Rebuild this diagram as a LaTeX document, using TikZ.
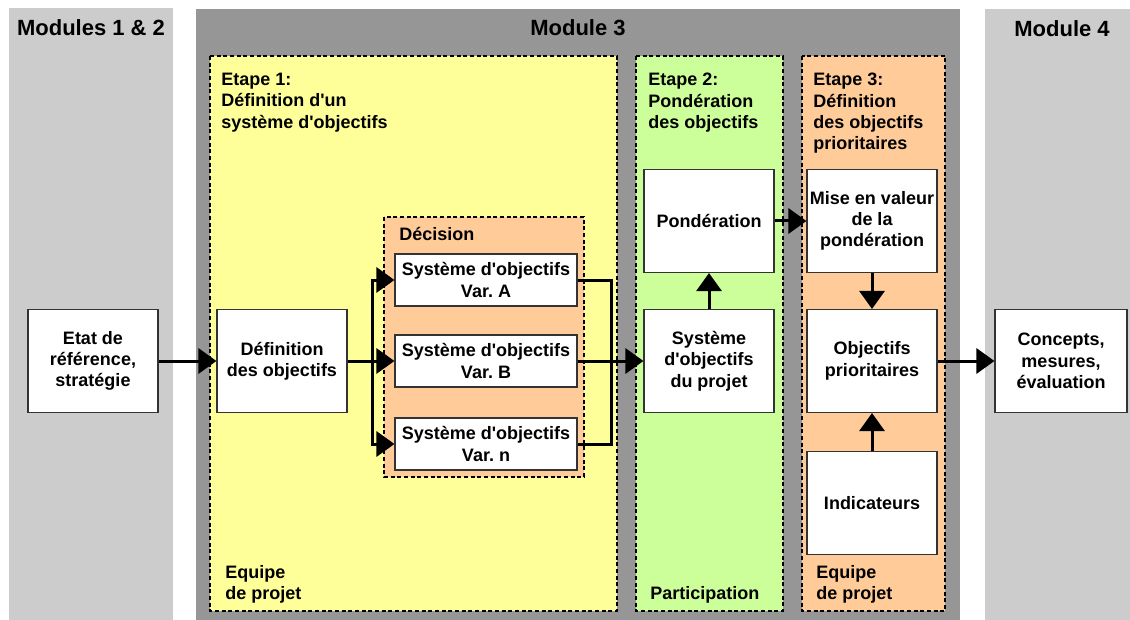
\documentclass[tikz,border=0pt]{standalone}
\usepackage{fontspec}
\setmainfont{Liberation Sans}[Ligatures=TeXOff]
\usetikzlibrary{arrows.meta}
\definecolor{panellight}{HTML}{CCCCCC}
\definecolor{paneldark}{HTML}{969696}
\definecolor{stepyellow}{HTML}{FFFF99}
\definecolor{stepgreen}{HTML}{CCFF99}
\definecolor{steporange}{HTML}{FFCC99}
\definecolor{boxline}{HTML}{333333}
\frenchspacing

\begin{document}
\begin{tikzpicture}[x=0.75pt,y=-0.75pt,
  font=\fontsize{13.5}{16}\selectfont\bfseries,
  stagearea/.style={draw=black, dash pattern=on 3pt off 2pt, line width=1.1pt},
  box/.style={draw=boxline, line width=0.8pt, fill=white, align=center, inner sep=1pt,
              minimum width=97.5pt, minimum height=77.25pt},
  varbox/.style={box, minimum width=136.5pt, minimum height=39pt},
  headtext/.style={font=\fontsize{16.5}{20}\selectfont\bfseries, inner sep=0pt, anchor=base},
  steptext/.style={anchor=north west, align=left, inner sep=0pt},
  wire/.style={line width=2.25pt},
  conn/.style={wire, -{Triangle[length=13.5pt,width=18.75pt]}},
]
\useasboundingbox (0,0) rectangle (1130,620);

% module panels
\fill[panellight] (9,8) rectangle (173,620);
\fill[paneldark] (196,9) rectangle (960,620);
\fill[panellight] (985,9) rectangle (1130,620);
\node[headtext] (m12) at (91,36) {Modules 1 \& 2};
\node[headtext] (m3) at (578,36) {Module 3};
\node[headtext] (m4) at (1062,37) {Module 4};

% steps of module 3
\filldraw[stagearea, fill=stepyellow] (210,56) rectangle (617,611);
\filldraw[stagearea, fill=stepgreen] (636,56) rectangle (783,611);
\filldraw[stagearea, fill=steporange] (802,56) rectangle (945,611);
\filldraw[stagearea, fill=steporange] (384,217) rectangle (584,477);

\node[steptext] (e1) at (221,73) {Etape 1:\\D\'efinition d'un\\syst\`eme d'objectifs};
\node[steptext] (e2) at (648,73) {Etape 2:\\Pond\'eration\\des objectifs};
\node[steptext] (e3) at (813,73) {Etape 3:\\D\'efinition\\des objectifs\\prioritaires};
\node[steptext] (dec) at (399,227) {D\'ecision};
\node[steptext] (eq1) at (225,565) {Equipe\\de projet};
\node[steptext] (part) at (650,586) {Participation};
\node[steptext] (eq3) at (816,565) {Equipe\\de projet};

% boxes
\node[box] (etat) at (93,361) {Etat de\\r\'ef\'erence,\\strat\'egie};
\node[box] (defobj) at (282,361) {D\'efinition\\des objectifs};
\node[varbox] (sysA) at (486,280) {Syst\`eme d'objectifs\\Var. A};
\node[varbox] (sysB) at (486,361) {Syst\`eme d'objectifs\\Var. B};
\node[varbox] (sysN) at (486,444) {Syst\`eme d'objectifs\\Var. n};
\node[box] (pond) at (709,221) {Pond\'eration};
\node[box] (sysproj) at (709,361) {Syst\`eme\\d'objectifs\\du projet};
\node[box] (mise) at (872,221) {Mise en valeur\\de la\\pond\'eration};
\node[box] (objprio) at (872,361) {Objectifs\\prioritaires};
\node[box] (indic) at (872,503) {Indicateurs};
\node[box, minimum width=99pt] (concepts) at (1061,361) {Concepts,\\mesures,\\\'evaluation};

% connectors
\coordinate (split) at (372,361);
\coordinate (merge) at (611,361);
\draw[conn] (etat) -- (defobj);
\draw[conn] (defobj) -- (sysB);
\draw[conn] (split) |- (sysA.west);
\draw[conn] (split) |- (sysN.west);
\draw[wire] (sysA.east) -| (merge) |- (sysN.east);
\draw[conn] (sysB) -- (sysproj);
\draw[conn] (sysproj) -- (pond);
\draw[conn] (pond) -- (mise);
\draw[conn] (mise) -- (objprio);
\draw[conn] (indic) -- (objprio);
\draw[conn] (objprio) -- (concepts);
\end{tikzpicture}
\end{document}
